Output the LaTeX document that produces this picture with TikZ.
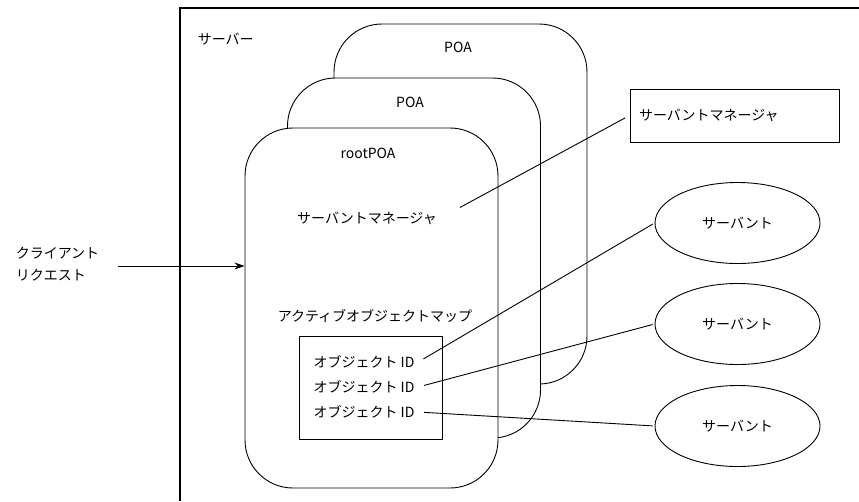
\documentclass[tikz,border=0pt]{standalone}
\usepackage{fontspec}
\setmainfont{Noto Sans CJK JP}
\usetikzlibrary{shapes.geometric,calc,positioning,arrows.meta}

\begin{document}
\begin{tikzpicture}
[x=1pt,y=-1pt,>={Stealth[length=10pt,width=7pt]},line width=0.9pt,
 every node/.style={font=\fontsize{14}{22}\selectfont},
 poa/.style={draw,fill=white,rounded corners=48pt,minimum width=253pt,minimum height=360pt,inner sep=0pt},
 servant/.style={draw,ellipse,minimum width=165pt,minimum height=81pt,inner sep=0pt},
 smbox/.style={draw,text width=191pt,inner xsep=9pt,minimum height=53pt,align=left},
]

%Picture size
\useasboundingbox (0,0) rectangle (859,501);

%Server frame
\draw[line width=1.3pt] (180,501) |- (859,8);
\node[anchor=west] (server) at (194,39) {サーバー};

%POA stack, back to front
\node[poa] (poaB) at (460.5,204) {};
\node[poa] (poaM) at (414,258) {};
\node[poa] (root) at (371.5,308) {};
\node (poaBt) at (458,47) {POA};
\node (poaMt) at (410,102) {POA};
\node (roott) at (368,153) {rootPOA};

%Inside rootPOA
\node (sm) at (367,218) {サーバントマネージャ};
\node (aom) at (375,316) {アクティブオブジェクトマップ};
\node[draw,minimum width=143pt,minimum height=103pt,inner sep=0pt] (idmap) at (370.5,387.5) {};
\node (id1) at (364,362) {オブジェクト ID};
\node (id2) at (364,387) {オブジェクト ID};
\node (id3) at (364,412) {オブジェクト ID};

%Servant manager and servants
\node[smbox] (smb) at (734.5,115.5) {サーバントマネージャ};
\node[servant] (s1) at (737.5,223) {サーバント};
\node[servant] (s2) at (737.5,324) {サーバント};
\node[servant] (s3) at (737.5,426) {サーバント};

%Client request
\node[anchor=west,align=left] (client) at (12,264) {クライアント\\リクエスト};
\coordinate (req) at (118,266);
\draw[->] (req) -- (req -| root.west);

%Joining
\draw[shorten <=22pt,shorten >=5pt] (sm.east) -- (smb.west);
\draw[shorten <=6pt,shorten >=2pt] (id1.east) -- (s1.west);
\draw[shorten <=6pt,shorten >=2pt] (id2.east) -- (s2.west);
\draw[shorten <=6pt,shorten >=2pt] (id3.east) -- (s3.west);

\end{tikzpicture}
\end{document}
